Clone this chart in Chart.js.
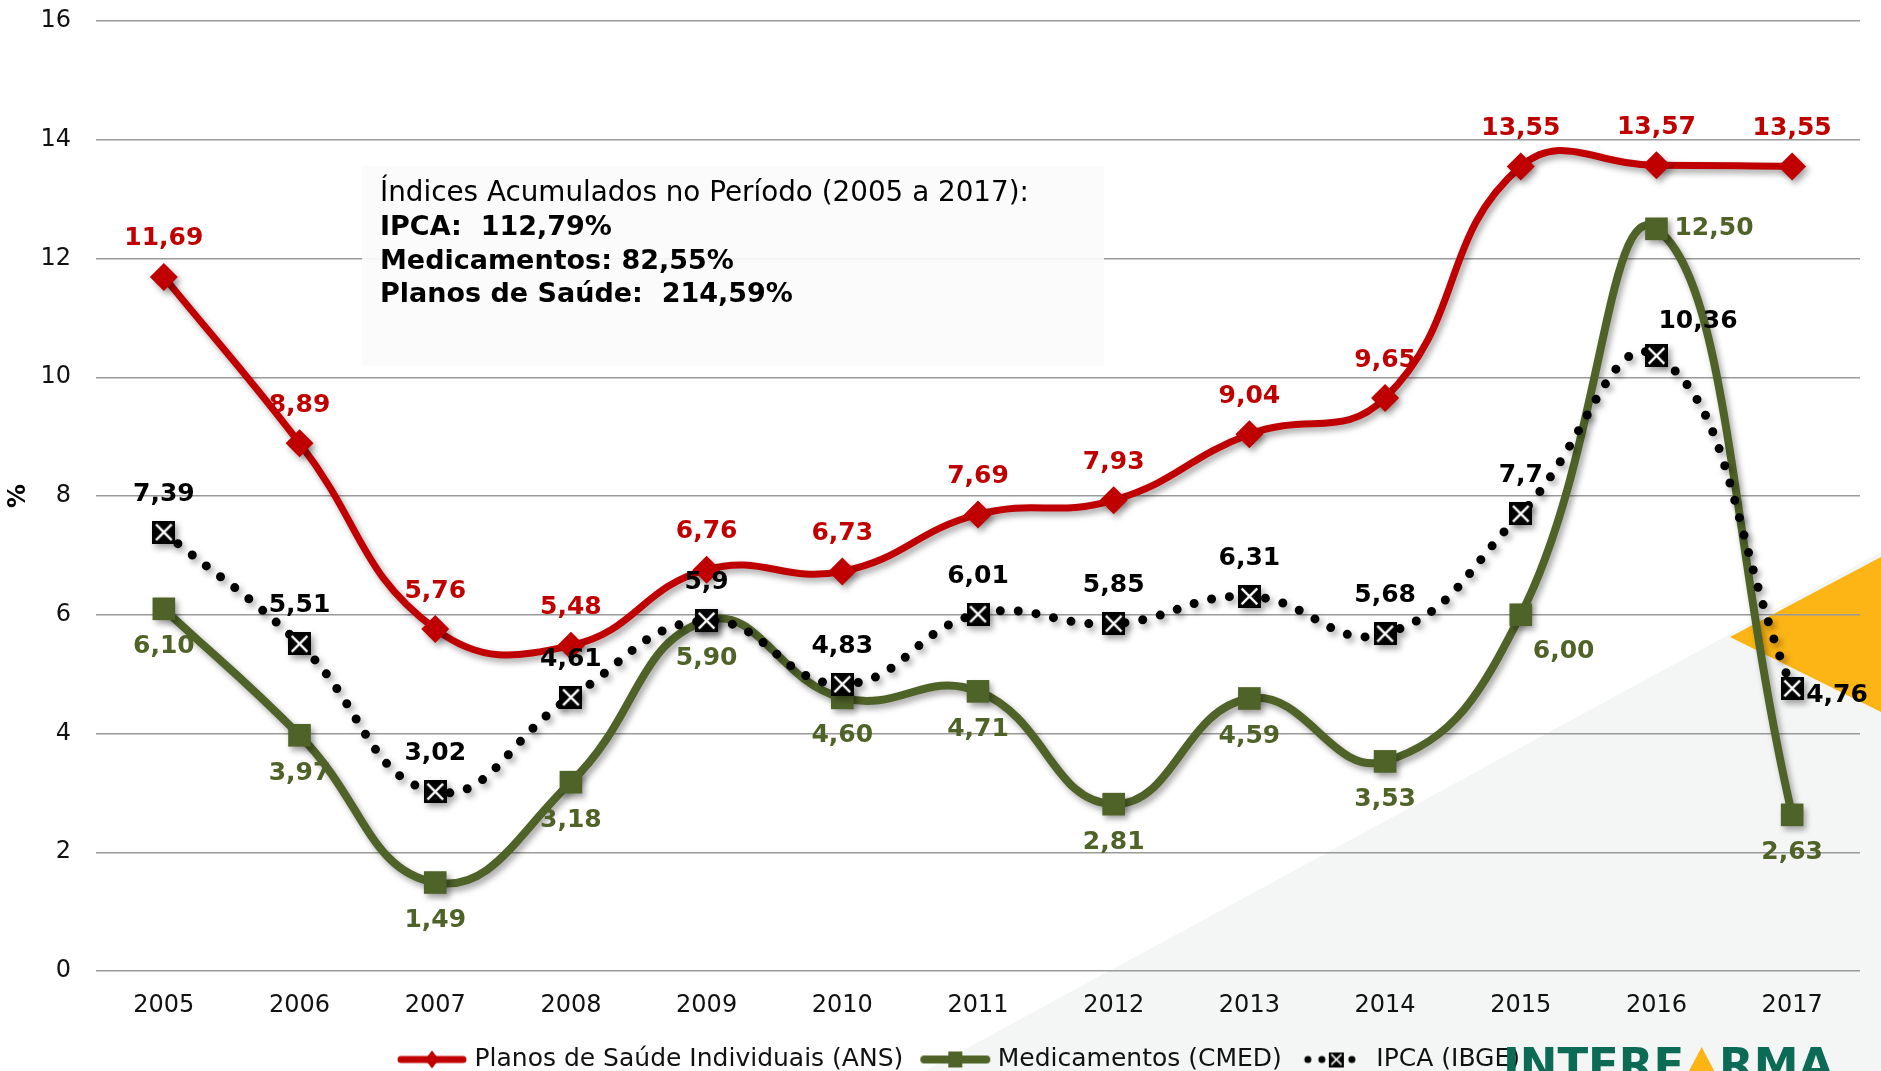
<!DOCTYPE html>
<html>
<head>
<meta charset="utf-8">
<script src="https://cdn.jsdelivr.net/npm/chart.js@4.4.0/dist/chart.umd.min.js"></script>
<style>
  html, body { margin: 0; padding: 0; background: #fff; }
  #wrap { width: 1881px; height: 1071px; position: relative; }
</style>
</head>
<body>
<div id="wrap"><canvas id="reajustes"></canvas></div>
<script>
// ---- data ----
const YEARS = ['2005', '2006', '2007', '2008', '2009', '2010', '2011', '2012', '2013', '2014', '2015', '2016', '2017'];
const PLANOS = [11.69, 8.89, 5.76, 5.48, 6.76, 6.73, 7.69, 7.93, 9.04, 9.65, 13.55, 13.57, 13.55];
const MEDICAMENTOS = [6.10, 3.97, 1.49, 3.18, 5.90, 4.60, 4.71, 2.81, 4.59, 3.53, 6.00, 12.50, 2.63];
const IPCA = [7.39, 5.51, 3.02, 4.61, 5.9, 4.83, 6.01, 5.85, 6.31, 5.68, 7.7, 10.36, 4.76];
const SERIES_NAMES = ['Planos de Saúde Individuais (ANS)', 'Medicamentos (CMED)', 'IPCA (IBGE)'];
const Y_MIN = 0, Y_MAX = 16, Y_STEP = 2;
const BOX_TITLE = 'Índices Acumulados no Período (2005 a 2017):';
const BOX_LINES = ['IPCA:  112,79%', 'Medicamentos: 82,55%', 'Planos de Saúde:  214,59%'];

// where each value label sits relative to its point
const PLANOS_POS = YEARS.map(() => 'above');
const MED_POS = ['below', 'below', 'below', 'below', 'below', 'below', 'below', 'below', 'below', 'below', 'belowright', 'right', 'below'];
const IPCA_POS = ['above', 'above', 'above', 'above', 'above', 'above', 'above', 'above', 'above', 'above', 'above', 'aboveright', 'rightlow'];

const RED = '#C00000';
const GREEN = '#4F6228';
const BLACK = '#000000';
const FONT = "'DejaVu Sans', Verdana, sans-serif";

const OFFSETS = {
  above:      { dx: 0,  dy: -38, align: 'center' },
  below:      { dx: 0,  dy: 38,  align: 'center' },
  right:      { dx: 18, dy: 0,   align: 'left' },
  rightlow:   { dx: 14, dy: 7,   align: 'left' },
  aboveright: { dx: 2,  dy: -34, align: 'left' },
  belowright: { dx: 12, dy: 37,  align: 'left' }
};

// ── IPCA marker: black square with white X ──
function xMarker(size) {
  const c = document.createElement('canvas');
  c.width = size; c.height = size;
  const g = c.getContext('2d');
  g.fillStyle = '#000';
  g.fillRect(0, 0, size, size);
  g.strokeStyle = '#fff';
  g.lineWidth = Math.max(1.5, size / 10);
  const p = size * 0.16;
  g.beginPath();
  g.moveTo(p, p); g.lineTo(size - p, size - p);
  g.moveTo(size - p, p); g.lineTo(p, size - p);
  g.stroke();
  return c;
}

// ── legend icons (line + marker) ──
function legendIcon(kind) {
  const c = document.createElement('canvas');
  c.width = 72; c.height = 26;
  const g = c.getContext('2d');
  const cy = 13;
  if (kind === 'red' || kind === 'green') {
    g.strokeStyle = kind === 'red' ? RED : GREEN;
    g.lineWidth = kind === 'red' ? 7 : 8;
    g.lineCap = 'round';
    g.beginPath(); g.moveTo(5, cy); g.lineTo(67, cy); g.stroke();
    g.fillStyle = g.strokeStyle;
    if (kind === 'red') {
      g.beginPath();
      g.moveTo(36, cy - 9); g.lineTo(43, cy); g.lineTo(36, cy + 9); g.lineTo(29, cy);
      g.closePath(); g.fill();
    } else {
      g.fillRect(29, cy - 8, 14, 16);
    }
  } else {
    g.fillStyle = '#000';
    [10, 24, 54].forEach(x => { g.beginPath(); g.arc(x, cy, 3.5, 0, Math.PI * 2); g.fill(); });
    g.drawImage(xMarker(15), 31, cy - 7.5);
  }
  return c;
}

const ipcaMarker = xMarker(23);
const icons = [legendIcon('red'), legendIcon('green'), legendIcon('ipca')];

// ── background shapes: grey wedge + orange triangle ──
const backdrop = {
  id: 'backdrop',
  beforeDraw(chart) {
    const c = chart.ctx;
    c.save();
    c.fillStyle = '#fff';
    c.fillRect(0, 0, chart.width, chart.height);
    c.fillStyle = '#F4F5F5';
    c.beginPath();
    c.moveTo(925, 1071); c.lineTo(1881, 552); c.lineTo(1881, 1071);
    c.closePath(); c.fill();
    c.fillStyle = '#FDB515';
    c.beginPath();
    c.moveTo(1730, 637); c.lineTo(1881, 557); c.lineTo(1881, 712);
    c.closePath(); c.fill();
    c.restore();
  }
};

// ── annotation box with accumulated indices ──
const infoBox = {
  id: 'infoBox',
  beforeDatasetsDraw(chart) {
    const c = chart.ctx;
    c.save();
    c.fillStyle = 'rgba(251,251,251,0.92)';
    c.fillRect(362, 166, 742, 200);
    c.fillStyle = '#000';
    c.textBaseline = 'middle';
    c.textAlign = 'left';
    c.font = '27.8px ' + FONT;
    c.fillText(BOX_TITLE, 380, 194);
    c.font = 'bold 27px ' + FONT;
    BOX_LINES.forEach((t, i) => c.fillText(t, 380, 228 + i * 33.6));
    c.restore();
  }
};

// ── drop shadow on lines and markers ──
const shadow = {
  id: 'shadow',
  beforeDatasetDraw(chart) {
    const c = chart.ctx;
    c.save();
    c.shadowColor = 'rgba(0,0,0,0.35)';
    c.shadowBlur = 6;
    c.shadowOffsetX = 3;
    c.shadowOffsetY = 4;
  },
  afterDatasetDraw(chart) {
    chart.ctx.restore();
  }
};

// ── value labels ──
const valueLabels = {
  id: 'valueLabels',
  afterDatasetsDraw(chart) {
    const c = chart.ctx;
    const specs = [
      { idx: 0, pos: PLANOS_POS, color: RED, fmt: v => v.toFixed(2).replace('.', ',') },
      { idx: 1, pos: MED_POS, color: GREEN, fmt: v => v.toFixed(2).replace('.', ',') },
      { idx: 2, pos: IPCA_POS, color: BLACK, fmt: v => String(v).replace('.', ',') }
    ];
    c.save();
    c.font = 'bold 25px ' + FONT;
    c.textBaseline = 'middle';
    specs.forEach(s => {
      const meta = chart.getDatasetMeta(s.idx);
      const vals = chart.data.datasets[s.idx].data;
      meta.data.forEach((pt, i) => {
        const o = OFFSETS[s.pos[i]];
        c.fillStyle = s.color;
        c.textAlign = o.align;
        c.fillText(s.fmt(vals[i]), pt.x + o.dx, pt.y + o.dy);
      });
    });
    c.restore();
  }
};

// ── logo, bottom right ──
const logo = {
  id: 'logo',
  afterDraw(chart) {
    const c = chart.ctx;
    c.save();
    c.font = 'bold 45px ' + FONT;
    c.textBaseline = 'alphabetic';
    c.textAlign = 'left';
    const base = 1080;
    const capTop = base - 33;
    let x = 1503;
    const parts = ['INTERF', 'A', 'RMA'];
    parts.forEach((p, i) => {
      const w = c.measureText(p).width;
      if (i === 1) {
        c.fillStyle = '#FDB515';
        c.beginPath();
        c.moveTo(x + w / 2, capTop); c.lineTo(x + w, base); c.lineTo(x, base);
        c.closePath(); c.fill();
      } else {
        c.fillStyle = '#0B6B55';
        c.fillText(p, x, base);
      }
      x += w;
    });
    c.restore();
  }
};

// ── fix legend height and nudge the row to where the original sits ──
const legendFit = {
  id: 'legendFit',
  beforeLayout(chart) {
    const lg = chart.legend;
    if (lg && !lg._patched) {
      const origFit = lg.fit;
      lg.fit = function () { origFit.call(this); this.height = 50; };
      const origDraw = lg.draw;
      lg.draw = function () {
        const c = this.ctx;
        c.save();
        c.translate(30, 4);
        origDraw.call(this);
        c.restore();
      };
      lg._patched = true;
    }
  }
};

new Chart(document.getElementById('reajustes').getContext('2d'), {
  type: 'line',
  data: {
    labels: YEARS,
    datasets: [
      {
        label: SERIES_NAMES[0],
        data: PLANOS,
        borderColor: RED,
        backgroundColor: RED,
        borderWidth: 7,
        tension: 0.45,
        pointStyle: 'rectRot',
        pointRadius: 14,
        pointHoverRadius: 14,
        pointBackgroundColor: RED,
        pointBorderWidth: 0,
        order: 2
      },
      {
        label: SERIES_NAMES[1],
        data: MEDICAMENTOS,
        borderColor: GREEN,
        backgroundColor: GREEN,
        borderWidth: 8,
        tension: 0.45,
        pointStyle: 'rect',
        pointRadius: 16,
        pointHoverRadius: 16,
        pointBackgroundColor: GREEN,
        pointBorderWidth: 0,
        order: 1
      },
      {
        label: SERIES_NAMES[2],
        data: IPCA,
        borderColor: BLACK,
        backgroundColor: BLACK,
        borderWidth: 9,
        borderDash: [0, 18],
        borderCapStyle: 'round',
        tension: 0.45,
        pointStyle: ipcaMarker,
        pointRadius: 12,
        pointHoverRadius: 12,
        order: 0
      }
    ]
  },
  options: {
    responsive: true,
    maintainAspectRatio: false,
    animation: false,
    layout: { padding: { top: 21, right: 19, left: 0, bottom: 0 } },
    scales: {
      x: {
        offset: true,
        grid: { display: false, drawTicks: false },
        border: { display: false },
        ticks: { color: '#111', padding: 20, font: { family: FONT, size: 24 }, maxRotation: 0 },
        afterFit(scale) { scale.height = 50; }
      },
      y: {
        min: Y_MIN, max: Y_MAX,
        grid: { color: '#9a9a9a', lineWidth: 1.4, drawTicks: false },
        border: { display: false },
        ticks: { stepSize: Y_STEP, color: '#111', padding: 25, font: { family: FONT, size: 24 } },
        title: { display: true, text: '%', color: '#000', padding: { top: 4, bottom: 0 }, font: { family: FONT, size: 24, weight: 'bold' } },
        afterFit(scale) {
          scale.width = 96;
          scale.paddingTop = 0;
          scale.paddingBottom = 0;
        }
      }
    },
    plugins: {
      legend: {
        position: 'bottom',
        labels: {
          usePointStyle: true,
          pointStyleWidth: 60,
          padding: 22,
          color: '#111',
          font: { family: FONT, size: 25 },
          sort: (a, b) => a.datasetIndex - b.datasetIndex,
          generateLabels(chart) {
            const items = Chart.defaults.plugins.legend.labels.generateLabels(chart);
            items.forEach(it => { it.pointStyle = icons[it.datasetIndex]; });
            return items;
          }
        }
      },
      tooltip: { enabled: false }
    }
  },
  plugins: [legendFit, backdrop, infoBox, shadow, valueLabels, logo]
});
</script>
</body>
</html>
